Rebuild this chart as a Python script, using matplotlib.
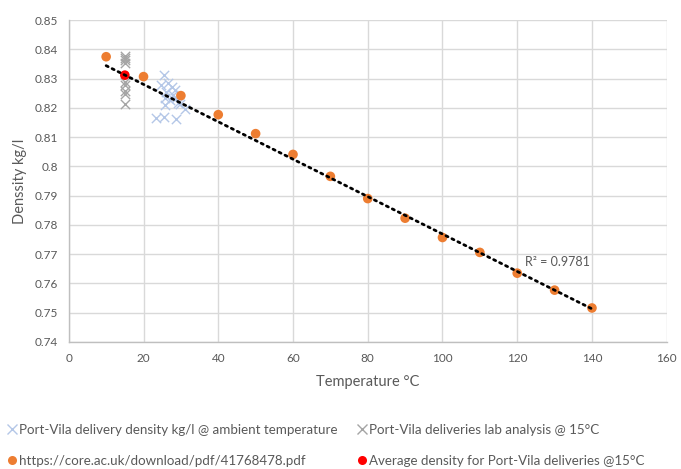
import numpy as np
import matplotlib
matplotlib.use("Agg")
import matplotlib.pyplot as plt
from matplotlib.lines import Line2D

plt.rcParams['font.family'] = ['Lato', 'DejaVu Sans']

# Data
ambient_temp = [25.4, 24.8, 26.5, 27.5, 28.4, 26.1, 27.9, 25.7, 27.0, 28.8, 25.7, 29.2,
                23.3, 25.4, 28.7, 31.0, 29.7]
ambient_density = [0.8314, 0.8278, 0.8285, 0.8272, 0.8261, 0.8255, 0.8244, 0.8233, 0.8227,
                   0.8233, 0.8210, 0.8216, 0.8164, 0.8169, 0.8163, 0.8195, 0.8215]
lab_temp = [15] * 9
lab_density = [0.8377, 0.8370, 0.8363, 0.8352, 0.8290, 0.8280, 0.8258, 0.8248, 0.8213]
ref_temp = [10, 20, 30, 40, 50, 60, 70, 80, 90, 100, 110, 120, 130, 140]
ref_density = [0.8375, 0.8307, 0.8242, 0.8177, 0.8112, 0.8041, 0.7966, 0.7890, 0.7823,
               0.7757, 0.7706, 0.7635, 0.7577, 0.7516]
avg_temp = [15]
avg_density = [0.8312]
r2_label = "R² = 0.9781"
labels = ["Port-Vila delivery density kg/l @ ambient temperature",
          "Port-Vila deliveries lab analysis @ 15°C",
          "https://core.ac.uk/download/pdf/41768478.pdf",
          "Average density for Port-Vila deliveries @15°C"]

fig = plt.figure(figsize=(6.81, 4.69), dpi=100)
ax = fig.add_axes([0.101, 0.271, 0.878, 0.686])

grid_c = '#d9d9d9'
txt_c = '#595959'

ax.scatter(ambient_temp, ambient_density, marker='x', s=45, color='#b4c7e7', linewidths=1.0, zorder=3)
ax.scatter(lab_temp, lab_density, marker='x', s=45, color='#a5a5a5', linewidths=1.0, zorder=3)
ax.scatter(ref_temp, ref_density, marker='o', s=48, color='#ed7d31', edgecolors='none', zorder=4)
ax.scatter(avg_temp, avg_density, marker='o', s=48, color='#ff0000', edgecolors='none', zorder=5)

# trendline (linear fit of all data)
all_t = np.array(ambient_temp + lab_temp + ref_temp + avg_temp, dtype=float)
all_d = np.array(ambient_density + lab_density + ref_density + avg_density)
k, b = np.polyfit(all_t, all_d, 1)
tx = np.array([min(ref_temp), max(ref_temp)], dtype=float)
ax.plot(tx, k * tx + b, color='black', linestyle=(0, (0.8, 1.6)), linewidth=2.0,
        dash_capstyle='round', zorder=6)
ax.text(122, 0.7672, r2_label, ha='left', va='center', fontsize=9, color=txt_c, zorder=7)

ax.set_xlim(0, 160)
ax.set_ylim(0.74, 0.85)
ax.set_xticks(np.arange(0, 161, 20))
yt = np.round(np.arange(0.74, 0.851, 0.01), 2)
ax.set_yticks(yt)
ax.set_yticklabels([('%g' % v) for v in yt])
ax.grid(True, color=grid_c, linewidth=1.0, zorder=0)
ax.set_axisbelow(True)
for s in ['top', 'right']:
    ax.spines[s].set_visible(False)
for s in ['left', 'bottom']:
    ax.spines[s].set_color('#bfbfbf')
    ax.spines[s].set_linewidth(1.0)
ax.tick_params(length=0, labelsize=8.5, labelcolor=txt_c, pad=8)
ax.set_xlabel('Temperature °C', fontsize=10.5, color=txt_c, labelpad=8)
ax.set_ylabel('Denssity kg/l', fontsize=10.5, color=txt_c, labelpad=5)

handles = [
    Line2D([], [], marker='x', linestyle='none', color='#b4c7e7', markersize=6.5, markeredgewidth=1.0),
    Line2D([], [], marker='x', linestyle='none', color='#a5a5a5', markersize=6.5, markeredgewidth=1.0),
    Line2D([], [], marker='o', linestyle='none', color='#ed7d31', markersize=6.5, markeredgewidth=0),
    Line2D([], [], marker='o', linestyle='none', color='#ff0000', markersize=6.5, markeredgewidth=0),
]
leg_font = {'family': ['Lato', 'DejaVu Sans'], 'size': 9.6}
col_x = [8 / 681, 358 / 681]
for ci in range(2):
    leg = fig.legend([handles[ci], handles[ci + 2]], [labels[ci], labels[ci + 2]],
                     loc='upper left', bbox_to_anchor=(col_x[ci], 1 - 424 / 469),
                     frameon=False, prop=leg_font, handlelength=0.6, handletextpad=0.25,
                     labelspacing=1.4, borderaxespad=0, borderpad=0)
    for t in leg.get_texts():
        t.set_color(txt_c)

fig.savefig('out.png', dpi=100)
